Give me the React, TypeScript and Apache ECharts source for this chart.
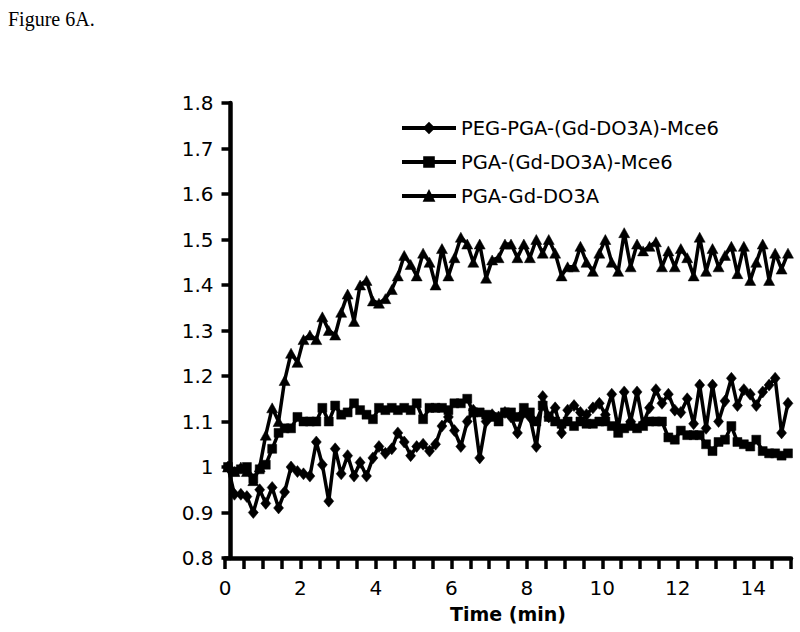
import React, { useEffect, useRef } from "react";
import * as echarts from "echarts";

// time in minutes (one reading every 10 s)
const times = [
  0.08, 0.25, 0.42, 0.58, 0.75, 0.92,
  1.08, 1.25, 1.42, 1.58, 1.75, 1.92,
  2.08, 2.25, 2.42, 2.58, 2.75, 2.92,
  3.08, 3.25, 3.42, 3.58, 3.75, 3.92,
  4.08, 4.25, 4.42, 4.58, 4.75, 4.92,
  5.08, 5.25, 5.42, 5.58, 5.75, 5.92,
  6.08, 6.25, 6.42, 6.58, 6.75, 6.92,
  7.08, 7.25, 7.42, 7.58, 7.75, 7.92,
  8.08, 8.25, 8.42, 8.58, 8.75, 8.92,
  9.08, 9.25, 9.42, 9.58, 9.75, 9.92,
  10.08, 10.25, 10.42, 10.58, 10.75, 10.92,
  11.08, 11.25, 11.42, 11.58, 11.75, 11.92,
  12.08, 12.25, 12.42, 12.58, 12.75, 12.92,
  13.08, 13.25, 13.42, 13.58, 13.75, 13.92,
  14.08, 14.25, 14.42, 14.58, 14.75, 14.92,
];

const seriesNames = ["PEG-PGA-(Gd-DO3A)-Mce6", "PGA-(Gd-DO3A)-Mce6", "PGA-Gd-DO3A"];

const pegPgaMce6 = [
  1.0, 0.94, 0.94, 0.935, 0.9, 0.95, 0.92, 0.955, 0.91, 0.945,
  1.0, 0.99, 0.985, 0.98, 1.055, 1.005, 0.925, 1.04, 0.985, 1.025,
  0.98, 1.01, 0.98, 1.02, 1.045, 1.03, 1.04, 1.075, 1.055, 1.025,
  1.045, 1.05, 1.035, 1.05, 1.09, 1.11, 1.08, 1.045, 1.1, 1.125,
  1.02, 1.1, 1.115, 1.11, 1.12, 1.11, 1.075, 1.12, 1.11, 1.045,
  1.155, 1.11, 1.13, 1.075, 1.125, 1.135, 1.12, 1.115, 1.13, 1.14,
  1.115, 1.16, 1.085, 1.165, 1.1, 1.165, 1.095, 1.13, 1.17, 1.14,
  1.16, 1.125, 1.12, 1.15, 1.095, 1.18, 1.085, 1.18, 1.1, 1.145,
  1.195, 1.135, 1.17, 1.16, 1.135, 1.165, 1.18, 1.195, 1.075, 1.14,
];

const pgaMce6 = [
  1.0, 0.99, 0.995, 1.0, 0.975, 0.995, 1.005, 1.04, 1.075, 1.085,
  1.085, 1.11, 1.1, 1.1, 1.1, 1.13, 1.1, 1.135, 1.115, 1.12,
  1.14, 1.125, 1.115, 1.105, 1.13, 1.125, 1.13, 1.125, 1.13, 1.125,
  1.14, 1.105, 1.13, 1.13, 1.13, 1.125, 1.14, 1.14, 1.15, 1.12,
  1.12, 1.115, 1.11, 1.1, 1.12, 1.12, 1.11, 1.13, 1.12, 1.1,
  1.135, 1.11, 1.1, 1.095, 1.1, 1.09, 1.1, 1.095, 1.095, 1.1,
  1.1, 1.09, 1.075, 1.085, 1.09, 1.085, 1.09, 1.1, 1.1, 1.1,
  1.065, 1.06, 1.08, 1.07, 1.07, 1.07, 1.05, 1.035, 1.055, 1.06,
  1.09, 1.055, 1.05, 1.045, 1.06, 1.035, 1.03, 1.03, 1.025, 1.03,
];

const pgaGdDo3a = [
  1.0, 0.99, 1.0, 0.99, 0.97, 1.0, 1.07, 1.13, 1.1, 1.19,
  1.25, 1.23, 1.28, 1.29, 1.28, 1.33, 1.3, 1.29, 1.34, 1.38,
  1.32, 1.4, 1.41, 1.365, 1.36, 1.37, 1.39, 1.42, 1.465, 1.445,
  1.42, 1.47, 1.45, 1.4, 1.48, 1.42, 1.46, 1.505, 1.49, 1.45,
  1.49, 1.415, 1.455, 1.46, 1.49, 1.49, 1.46, 1.49, 1.46, 1.5,
  1.47, 1.5, 1.47, 1.42, 1.44, 1.44, 1.485, 1.45, 1.43, 1.47,
  1.5, 1.45, 1.43, 1.515, 1.44, 1.49, 1.475, 1.485, 1.495, 1.44,
  1.475, 1.44, 1.48, 1.46, 1.42, 1.505, 1.43, 1.48, 1.44, 1.465,
  1.485, 1.425, 1.485, 1.41, 1.45, 1.49, 1.41, 1.47, 1.435, 1.47,
];

const FONT = "DejaVu Sans";

export default function App() {
  const ref = useRef<HTMLDivElement>(null);

  useEffect(() => {
    if (!ref.current) return;
    const chart = echarts.init(ref.current, null, { renderer: "svg" });
    const pair = (vals: number[]) => vals.map((v, i) => [times[i], v]);
    const mk = (name: string, vals: number[], symbol: string, size: any) => ({
      name,
      type: "line",
      data: pair(vals),
      symbol,
      symbolSize: size,
      showSymbol: true,
      lineStyle: { color: "#000", width: 3.5 },
      itemStyle: { color: "#000", borderColor: "#000", borderWidth: 0.5 },
      emphasis: { disabled: true },
    });

    chart.setOption({
      animation: false,
      backgroundColor: "#fff",
      graphic: [
        {
          type: "text",
          left: 8,
          top: 9,
          style: {
            text: "Figure 6A.",
            fontFamily: "Liberation Serif",
            fontSize: 20,
            fill: "#000",
          },
        },
      ],
      legend: {
        orient: "vertical",
        left: 395,
        top: 113,
        itemWidth: 54,
        itemHeight: 12,
        itemGap: 14,
        data: seriesNames,
        lineStyle: { color: "#000", width: 4 },
        itemStyle: { color: "#000" },
        textStyle: { fontFamily: FONT, fontSize: 19.5, color: "#000" },
      },
      grid: { left: 225, right: 9, top: 103, bottom: 74, containLabel: false },
      xAxis: {
        type: "value",
        min: 0,
        max: 15,
        interval: 0.5,
        name: "Time (min)",
        nameLocation: "middle",
        nameGap: 46,
        nameTextStyle: { fontFamily: FONT, fontSize: 19, fontWeight: "bold", color: "#000" },
        axisLine: { show: true, lineStyle: { color: "#000", width: 4.5 } },
        axisTick: { show: true, length: 11, lineStyle: { color: "#000", width: 3.5 } },
        axisLabel: {
          fontFamily: FONT,
          fontSize: 20,
          color: "#000",
          margin: 20,
          formatter: (v: number) => (Math.abs(v % 2) < 1e-9 ? String(v) : ""),
        },
        splitLine: { show: false },
      },
      yAxis: {
        type: "value",
        min: 0.8,
        max: 1.8,
        interval: 0.1,
        offset: -5.5,
        axisLine: { show: true, lineStyle: { color: "#000", width: 4.5 } },
        axisTick: { show: true, length: 9, lineStyle: { color: "#000", width: 3.5 } },
        axisLabel: {
          fontFamily: FONT,
          fontSize: 20,
          color: "#000",
          margin: 17,
          formatter: (v: number) => String(Math.round(v * 10) / 10),
        },
        splitLine: { show: false },
      },
      series: [
        mk(seriesNames[0], pegPgaMce6, "diamond", [10, 12]),
        mk(seriesNames[1], pgaMce6, "rect", 9),
        mk(seriesNames[2], pgaGdDo3a, "triangle", [11, 10]),
      ],
    });

    return () => chart.dispose();
  }, []);

  return (
    <div
      ref={ref}
      style={{ position: "absolute", left: 0, top: 0, width: 800, height: 632 }}
    />
  );
}
